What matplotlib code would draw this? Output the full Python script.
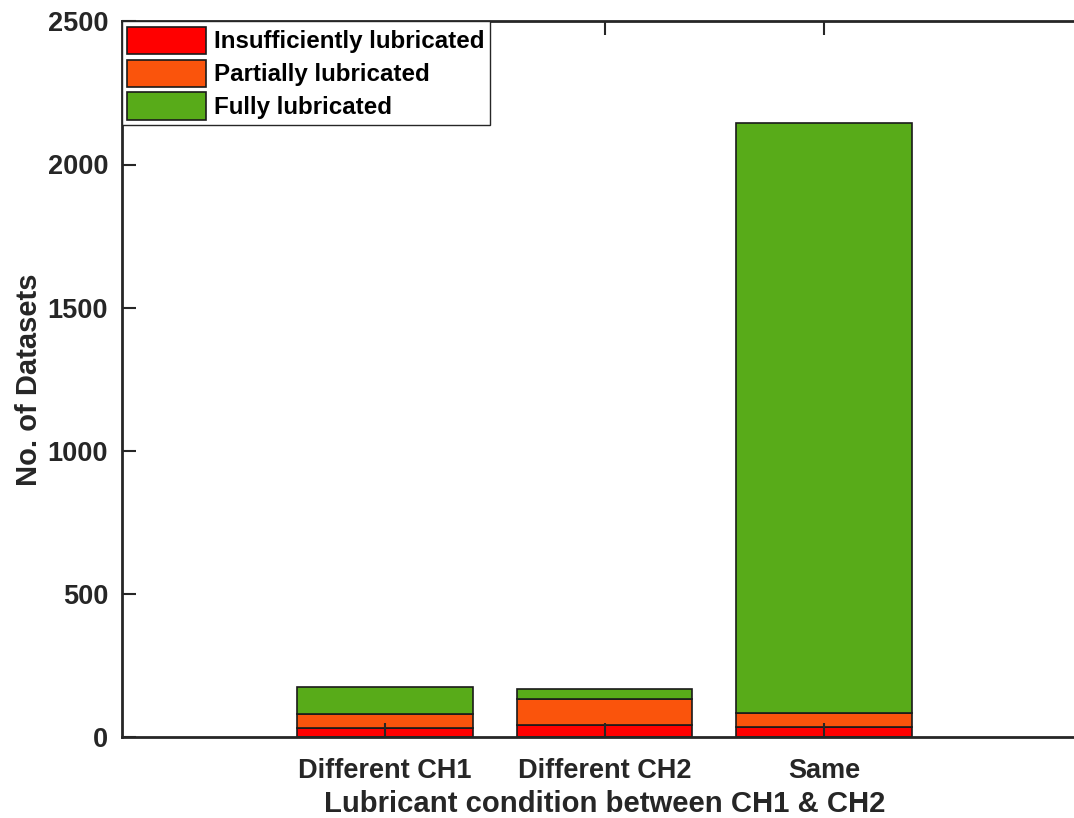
import matplotlib
matplotlib.use("Agg")
import matplotlib.pyplot as plt
import numpy as np

categories = ["Different CH1", "Different CH2", "Same"]
insufficient = [34, 44, 37]
partial = [48, 91, 49]
full = [95, 34, 2058]
series_names = ["Insufficiently lubricated", "Partially lubricated", "Fully lubricated"]
colors = ["#FF0000", "#FA540C", "#58AB19"]
yticks = [0, 500, 1000, 1500, 2000, 2500]

plt.rcParams['font.family'] = ['Liberation Sans', 'DejaVu Sans']
plt.rcParams['font.weight'] = 'bold'
txt = "#262626"

fig = plt.figure(figsize=(10.74, 8.18), dpi=100)
W, H = 1074, 818
left, right, top, bottom = 122, 1087, 21.3, 737.3
ax = fig.add_axes([left / W, (H - bottom) / H, (right - left) / W, (bottom - top) / H])

x = np.arange(1, len(categories) + 1)
data = [insufficient, partial, full]
base = np.zeros(len(categories))
for vals, name, c in zip(data, series_names, colors):
    ax.bar(x, vals, width=0.8, bottom=base, color=c, edgecolor="#1a1a1a",
           linewidth=1.2, label=name, zorder=1)
    base += np.array(vals)

ax.set_xlim(-0.2, 4.2)
ax.set_ylim(0, 2500)
ax.set_xticks(x)
ax.set_xticklabels(categories)
ax.set_yticks(yticks)
ax.tick_params(direction="in", length=10, width=1.5, colors=txt, labelsize=19.5,
               top=True, right=False)
ax.tick_params(axis="x", pad=15)
ax.tick_params(axis="y", pad=10)
for lab in ax.get_xticklabels() + ax.get_yticklabels():
    lab.set_fontweight("bold")
    lab.set_color(txt)
for s in ax.spines.values():
    s.set_linewidth(2)
    s.set_color(txt)
    s.set_zorder(5)
ax.set_axisbelow(False)

ax.set_xlabel("Lubricant condition between CH1 & CH2", fontsize=21.1, fontweight="bold",
              color=txt, labelpad=4)
ax.set_ylabel("No. of Datasets", fontsize=21, fontweight="bold", color=txt, labelpad=3)

leg = ax.legend(loc="upper left", bbox_to_anchor=(0, 1), borderaxespad=0,
                fontsize=17.4, frameon=True, fancybox=False, framealpha=1.0,
                handlelength=3.25, handleheight=1.35, handletextpad=0.35,
                labelspacing=0.24, borderpad=0.22)
leg.set_zorder(10)
leg.get_frame().set_edgecolor(txt)
leg.get_frame().set_linewidth(1.0)
for t in leg.get_texts():
    t.set_fontweight("bold")
    t.set_color("black")

fig.savefig("out.png", dpi=100)
